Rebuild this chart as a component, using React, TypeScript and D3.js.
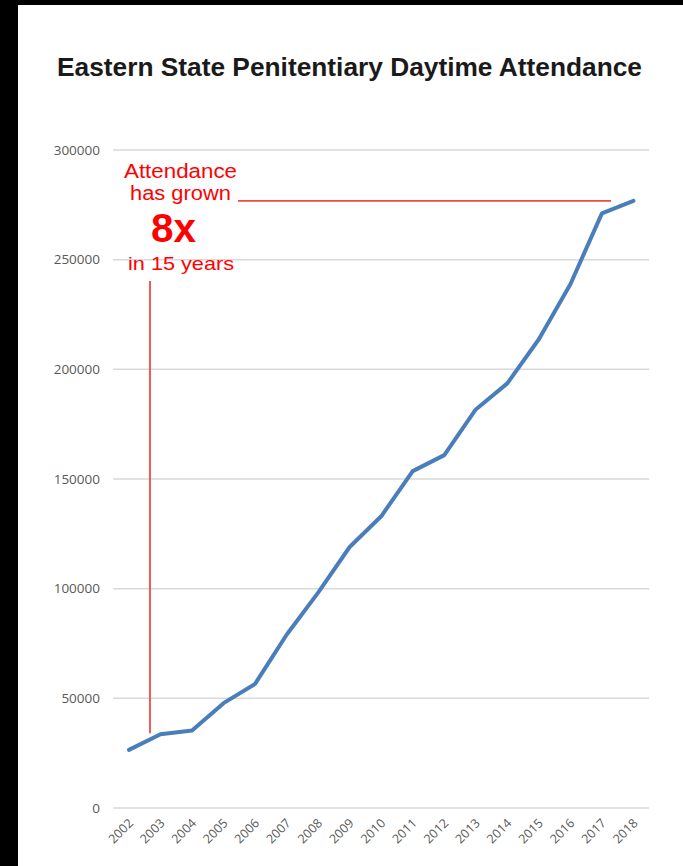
import React from "react";
import * as d3 from "d3";

const years = ["2002","2003","2004","2005","2006","2007","2008","2009","2010","2011","2012","2013","2014","2015","2016","2017","2018"];
const attendance = [26500, 33600, 35300, 47800, 56600, 79000, 98200, 119000, 133000, 153600, 160900, 181700, 193600, 213700, 238800, 271100, 276800];
const yTicks = [0, 50000, 100000, 150000, 200000, 250000, 300000];
const titleText = "Eastern State Penitentiary Daytime Attendance";
const noteLines = ["Attendance", "has grown", "8x", "in 15 years"];

const W = 683, H = 866;
const plotLeft = 113.2, plotRight = 649.2, plotTop = 150, plotBottom = 808;

export default function App() {
  const x = d3.scaleBand<string>().domain(years).range([plotLeft, plotRight]);
  const y = d3.scaleLinear().domain([0, 300000]).range([plotBottom, plotTop]);
  const cx = (yr: string) => (x(yr) as number) + x.bandwidth() / 2;
  const line = d3.line<number>().x((_, i) => cx(years[i])).y((d) => y(d));
  const lastVal = attendance[attendance.length - 1];
  const grid = "#d9d9d9";
  const lbl = "#595959";
  const red = "#ff0000";
  const vx = cx("2003") - 10.5;
  return (
    <svg width={W} height={H} style={{ position: "absolute", left: 0, top: 0, background: "#fff" }}>
      <rect x={0} y={0} width={W} height={H} fill="#fff" />
      <rect x={0} y={0} width={18} height={H} fill="#000" />
      <rect x={0} y={0} width={W} height={5} fill="#000" />
      <text x={349.5} y={76} textAnchor="middle" fontFamily="Liberation Sans, Arial, sans-serif" fontWeight="bold" fontSize={25} fill="#1a1a1a" textLength={585} lengthAdjust="spacingAndGlyphs">{titleText}</text>
      {yTicks.map((t) => (
        <g key={t}>
          <line x1={plotLeft} x2={plotRight} y1={y(t)} y2={y(t)} stroke={grid} strokeWidth={1.5} />
          <text x={100} y={y(t)} dy="0.35em" textAnchor="end" fontFamily="Open Sans, sans-serif" fontSize={13.5} fill={lbl}>{t}</text>
        </g>
      ))}
      {years.map((yr) => (
        <text key={yr} transform={`translate(${cx(yr) + 5},${plotBottom + 16}) rotate(-45)`} textAnchor="end" fontFamily="Open Sans, sans-serif" fontSize={12.5} fill={lbl}>{yr}</text>
      ))}
      <path d={line(attendance) || ""} fill="none" stroke="#4a7ebb" strokeWidth={4} strokeLinejoin="round" strokeLinecap="round" />
      <line x1={238} x2={611} y1={y(lastVal)} y2={y(lastVal)} stroke="#f24848" strokeWidth={1.8} />
      <line x1={vx} x2={vx} y1={281} y2={y(attendance[1]) - 1} stroke="#f24848" strokeWidth={1.8} />
      <g fontFamily="Liberation Sans, Arial, sans-serif" fill={red} textAnchor="middle">
        <text x={180.5} y={178} fontSize={20.5} textLength={113} lengthAdjust="spacingAndGlyphs">{noteLines[0]}</text>
        <text x={180.5} y={200} fontSize={20.5} textLength={101} lengthAdjust="spacingAndGlyphs">{noteLines[1]}</text>
        <text x={173.5} y={242} fontSize={41} fontWeight="bold" textLength={45} lengthAdjust="spacingAndGlyphs">{noteLines[2]}</text>
        <text x={181} y={270} fontSize={18.5} textLength={106} lengthAdjust="spacingAndGlyphs">{noteLines[3]}</text>
      </g>
    </svg>
  );
}
